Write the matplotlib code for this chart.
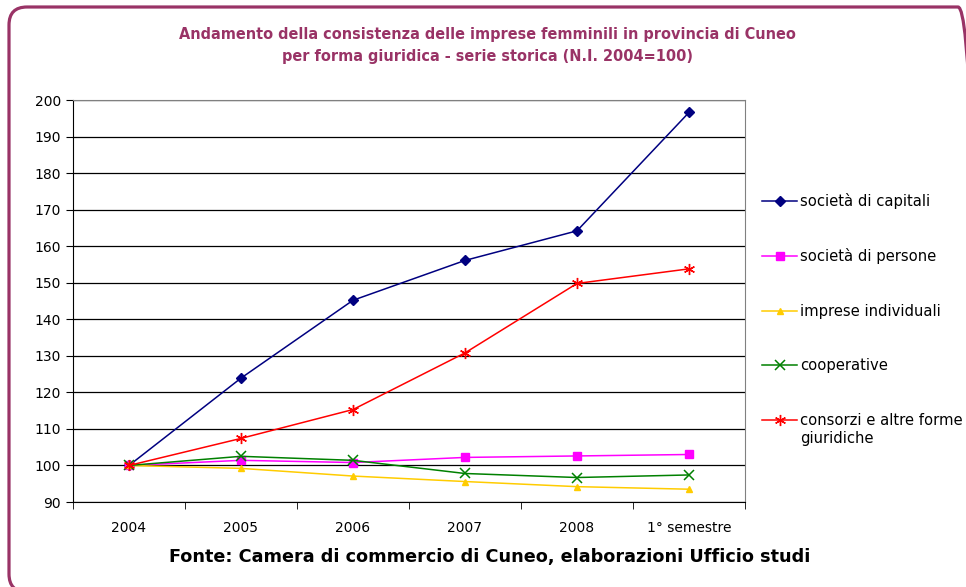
import numpy as np
import matplotlib.pyplot as plt
from matplotlib.patches import FancyBboxPatch
from matplotlib.transforms import IdentityTransform

# Data (N.I. 2004 = 100)
periods = ["2004", "2005", "2006", "2007", "2008", "1° semestre"]
capitali = [100, 123.9, 145.2, 156.1, 164.2, 196.6]
persone = [100, 101.4, 100.8, 102.2, 102.6, 103.0]
individuali = [100, 99.2, 97.1, 95.6, 94.2, 93.5]
cooperative = [100, 102.5, 101.4, 97.8, 96.7, 97.4]
consorzi = [100, 107.4, 115.3, 130.8, 149.8, 153.8]

border_col = "#993366"
W, H = 966, 587

fig = plt.figure(figsize=(W / 100, H / 100), dpi=100)

# Rounded outer frame (right and bottom edges run off the image)
frame = FancyBboxPatch((9, H - 592), 967, 585,
                       boxstyle="round,pad=0,rounding_size=18",
                       transform=IdentityTransform(), fill=False,
                       edgecolor=border_col, linewidth=2.3, clip_on=False)
fig.patches.append(frame)

ax = fig.add_axes([73 / W, 1 - 502 / H, (745 - 73) / W, (502 - 100) / H])

x = np.arange(len(periods))
ax.plot(x, capitali, color="#000080", marker="D", markersize=5, lw=1.1,
        label="società di capitali")
ax.plot(x, persone, color="#FF00FF", marker="s", markersize=6, lw=1.1,
        label="società di persone")
ax.plot(x, individuali, color="#FFCC00", marker="^", markersize=5, lw=1.1,
        label="imprese individuali")
ax.plot(x, cooperative, color="#008000", marker="x", markersize=7, mew=1.1, lw=1.1,
        label="cooperative")
ax.plot(x, consorzi, color="#FF0000", marker=(6, 2, 0), markersize=8, mew=1.0, lw=1.1,
        label="consorzi e altre forme")

ax.set_xlim(-0.5, len(periods) - 0.5)
ax.set_ylim(90, 200)
ax.set_yticks(np.arange(90, 201, 10))
ax.yaxis.grid(True, color="black", lw=0.9)
ax.set_axisbelow(True)

ax.set_xticks(x)
ax.set_xticklabels(periods)
ax.set_xticks(np.arange(-0.5, len(periods), 1), minor=True)
ax.tick_params(axis="x", which="major", length=0, pad=14, labelsize=10)
ax.tick_params(axis="x", which="minor", length=5, direction="out")
ax.tick_params(axis="y", length=5, direction="out", labelsize=10)

for s in ["top", "right"]:
    ax.spines[s].set_color("#808080")
ax.spines["left"].set_color("black")
ax.spines["bottom"].set_color("black")

leg = fig.legend(*ax.get_legend_handles_labels(), loc="upper left",
                 bbox_to_anchor=(762 / W, 1 - 193 / H), frameon=False,
                 fontsize=10.6, labelspacing=2.68, handlelength=2.4, handletextpad=0.2,
                 borderpad=0, borderaxespad=0)

# second line of the last legend label, placed under the first
fig.canvas.draw()
bb = leg.get_texts()[-1].get_window_extent()
fig.text(bb.x0, bb.y0 - 3, "giuridiche", transform=IdentityTransform(),
         ha="left", va="top", fontsize=10.6)

fig.text(0.505, 1 - 35 / H, "Andamento della consistenza delle imprese femminili in provincia di Cuneo",
         ha="center", va="center", color=border_col, fontsize=10.45, fontweight="bold")
fig.text(0.505, 1 - 57 / H, "per forma giuridica - serie storica (N.I. 2004=100)",
         ha="center", va="center", color=border_col, fontsize=10.45, fontweight="bold")
fig.text(0.507, 1 - 557 / H, "Fonte: Camera di commercio di Cuneo, elaborazioni Ufficio studi",
         ha="center", va="center", color="black", fontsize=12.7, fontweight="bold")

fig.savefig("out.png", dpi=100)
